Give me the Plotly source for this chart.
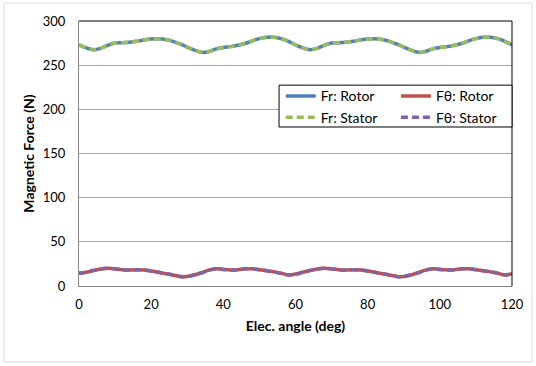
import plotly.graph_objects as go

angle = list(range(0, 122, 2))
fr_vals = [273, 269.5, 267.5, 269, 272.5, 275, 275.5, 276, 277, 278.5, 279.5, 279.8, 279, 277, 274,
           270.5, 267, 264.5, 265.5, 268.5, 270, 271, 272.5, 274.5, 277.5, 280, 281.5, 281.5, 280, 277, 273,
           269.5, 267.5, 269, 272.5, 275, 275.5, 276, 277, 278.5, 279.5, 279.8, 279, 277, 274,
           270.5, 267, 264.5, 265.5, 268.5, 270, 271, 272.5, 274.5, 277.5, 280, 281.5, 281.5, 280, 277, 273]
ft_vals = [14.4, 15.5, 17.5, 19.3, 20, 19.5, 18.5, 18.2, 18.3, 18, 17, 15.5, 14, 12.5, 10.8,
           10.8, 12.5, 15, 18, 19.6, 18.8, 18.2, 18.5, 19.4, 19.5, 18.5, 17.2, 16, 14.5, 12.5, 13.5,
           15.5, 17.5, 19.3, 20, 19.5, 18.5, 18.2, 18.3, 18, 17, 15.5, 14, 12.5, 10.8,
           10.8, 12.5, 15, 18, 19.6, 18.8, 18.2, 18.5, 19.4, 19.5, 18.5, 17.2, 16, 14.5, 12.5, 14]

x_ticks = [0, 20, 40, 60, 80, 100, 120]
y_ticks = [0, 50, 100, 150, 200, 250, 300]

FONT = "Lato"
fig = go.Figure()
fig.add_trace(go.Scatter(x=angle, y=fr_vals, name="Fr: Rotor", mode="lines", legend="legend",
                         line=dict(color="#4F81BD", width=3.5, shape="spline")))
fig.add_trace(go.Scatter(x=angle, y=ft_vals, name="Fθ: Rotor", mode="lines", legend="legend2",
                         line=dict(color="#C0504D", width=3.5, shape="spline")))
fig.add_trace(go.Scatter(x=angle, y=fr_vals, name="Fr: Stator", mode="lines", legend="legend",
                         line=dict(color="#9BBB59", width=3.5, shape="spline", dash="7px,4px")))
fig.add_trace(go.Scatter(x=angle, y=ft_vals, name="Fθ: Stator", mode="lines", legend="legend2",
                         line=dict(color="#8064A2", width=3.5, shape="spline", dash="7px,4px")))

leg_common = dict(orientation="v", yanchor="top", xanchor="left",
                  bgcolor="rgba(0,0,0,0)", borderwidth=0,
                  font=dict(family=FONT, size=14), traceorder="normal", tracegroupgap=0)

fig.update_layout(
    width=536, height=366,
    margin=dict(l=79, r=24, t=21, b=80),
    paper_bgcolor="white", plot_bgcolor="white",
    font=dict(family=FONT, size=13, color="#000000"),
    showlegend=True,
    legend=dict(x=0.466, y=0.776, **leg_common),
    legend2=dict(x=0.732, y=0.776, **leg_common),
    xaxis=dict(range=[0, 120], tickvals=x_ticks, showgrid=False, zeroline=False,
               showline=True, linecolor="#868686", linewidth=1, ticks="",
               tickfont=dict(size=13, color="#000000"), ticklabelstandoff=6,
               title=dict(text="<b>Elec. angle (deg)</b>", font=dict(size=14), standoff=10)),
    yaxis=dict(range=[0, 300], tickvals=y_ticks, showgrid=True, gridcolor="#A6A6A6", gridwidth=1,
               zeroline=False, showline=True, linecolor="#868686", linewidth=1, ticks="",
               tickfont=dict(size=13, color="#000000"), ticklabelstandoff=10,
               title=dict(text="<b>Magnetic Force (N)</b>", font=dict(size=14), standoff=4)),
    shapes=[
        dict(type="line", xref="paper", yref="paper", x0=0, x1=1, y0=1, y1=1,
             line=dict(color="#000000", width=1)),
        dict(type="line", xref="paper", yref="paper", x0=1, x1=1, y0=0, y1=1,
             line=dict(color="#000000", width=1)),
        dict(type="rect", xref="paper", yref="paper", x0=0.462, x1=1.0, y0=0.6, y1=0.758,
             line=dict(color="#000000", width=1), fillcolor="white", layer="above"),
        dict(type="rect", xref="paper", yref="paper", x0=-0.173, x1=1.046, y0=-0.287, y1=1.068,
             line=dict(color="#D9D9D9", width=1), layer="below"),
    ],
)
fig.write_html("out.html")
